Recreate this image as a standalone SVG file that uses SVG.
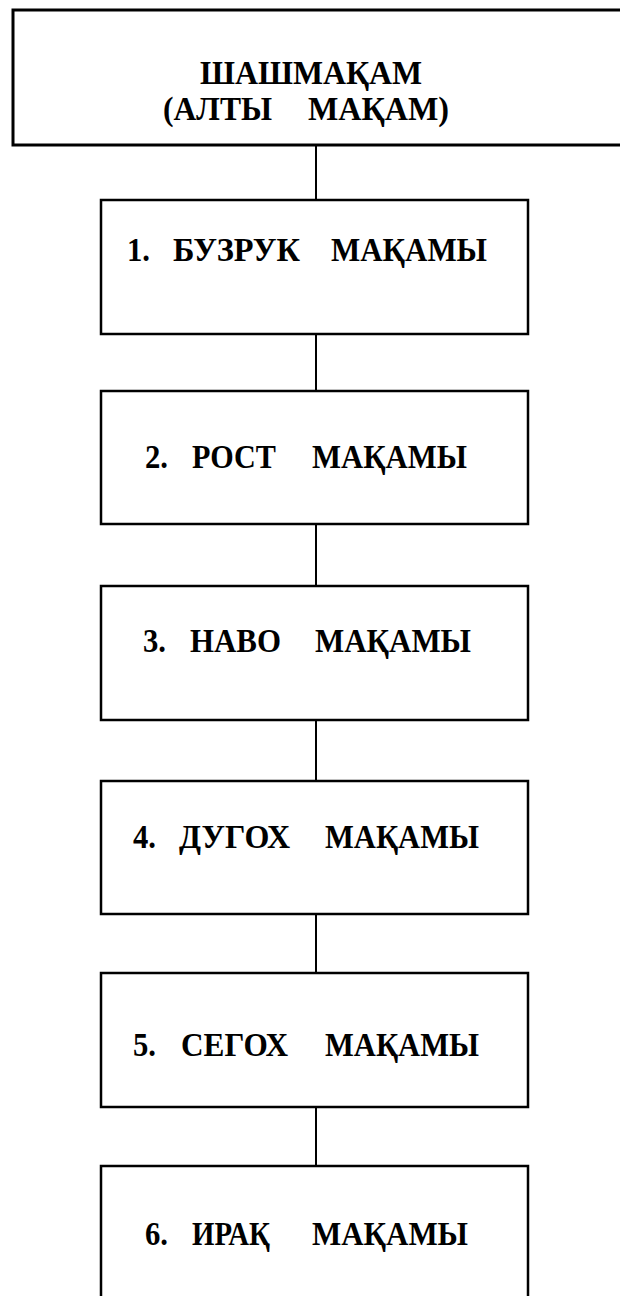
<svg xmlns="http://www.w3.org/2000/svg" width="620" height="1296" viewBox="0 0 620 1296">
<style>
.bg{fill:#ffffff}
.top{fill:#ffffff;stroke:#000000;stroke-width:3}
.box{fill:#ffffff;stroke:#000000;stroke-width:2.5}
.conn{stroke:#000000;stroke-width:2;fill:none}
.lbl{font-family:"Liberation Serif","Times New Roman",serif;font-weight:bold;font-size:33px;fill:#000000}
</style>
<rect class="bg" x="0" y="0" width="620" height="1296"/>
<g id="connectors">
<line class="conn" x1="316" y1="145" x2="316" y2="200"/>
<line class="conn" x1="316" y1="334" x2="316" y2="391"/>
<line class="conn" x1="316" y1="524" x2="316" y2="586"/>
<line class="conn" x1="316" y1="720" x2="316" y2="781"/>
<line class="conn" x1="316" y1="914" x2="316" y2="973"/>
<line class="conn" x1="316" y1="1107" x2="316" y2="1166"/>
</g>
<g id="node-root">
<rect class="top" x="13" y="10" width="700" height="135"/>
<text class="lbl" x="200" y="84" textLength="222" lengthAdjust="spacingAndGlyphs">ШАШМАҚАМ</text>
<text class="lbl" x="163" y="120" textLength="109" lengthAdjust="spacingAndGlyphs">(АЛТЫ</text>
<text class="lbl" x="308" y="120" textLength="141" lengthAdjust="spacingAndGlyphs">МАҚАМ)</text>
</g>
<g id="node-1">
<rect class="box" x="101" y="200" width="427" height="134"/>
<text class="lbl" x="127" y="261" textLength="23" lengthAdjust="spacingAndGlyphs">1.</text>
<text class="lbl" x="173" y="261" textLength="127" lengthAdjust="spacingAndGlyphs">БУЗРУК</text>
<text class="lbl" x="331" y="261" textLength="156" lengthAdjust="spacingAndGlyphs">МАҚАМЫ</text>
</g>
<g id="node-2">
<rect class="box" x="101" y="391" width="427" height="133"/>
<text class="lbl" x="145" y="468" textLength="23" lengthAdjust="spacingAndGlyphs">2.</text>
<text class="lbl" x="192" y="468" textLength="84" lengthAdjust="spacingAndGlyphs">РОСТ</text>
<text class="lbl" x="312" y="468" textLength="155" lengthAdjust="spacingAndGlyphs">МАҚАМЫ</text>
</g>
<g id="node-3">
<rect class="box" x="101" y="586" width="427" height="134"/>
<text class="lbl" x="143" y="652" textLength="23" lengthAdjust="spacingAndGlyphs">3.</text>
<text class="lbl" x="190" y="652" textLength="91" lengthAdjust="spacingAndGlyphs">НАВО</text>
<text class="lbl" x="315" y="652" textLength="156" lengthAdjust="spacingAndGlyphs">МАҚАМЫ</text>
</g>
<g id="node-4">
<rect class="box" x="101" y="781" width="427" height="133"/>
<text class="lbl" x="133" y="848" textLength="23" lengthAdjust="spacingAndGlyphs">4.</text>
<text class="lbl" x="179" y="848" textLength="111" lengthAdjust="spacingAndGlyphs">ДУГОХ</text>
<text class="lbl" x="325" y="848" textLength="154" lengthAdjust="spacingAndGlyphs">МАҚАМЫ</text>
</g>
<g id="node-5">
<rect class="box" x="101" y="973" width="427" height="134"/>
<text class="lbl" x="133" y="1056" textLength="23" lengthAdjust="spacingAndGlyphs">5.</text>
<text class="lbl" x="181" y="1056" textLength="107" lengthAdjust="spacingAndGlyphs">СЕГОХ</text>
<text class="lbl" x="325" y="1056" textLength="154" lengthAdjust="spacingAndGlyphs">МАҚАМЫ</text>
</g>
<g id="node-6">
<rect class="box" x="101" y="1166" width="427" height="200"/>
<text class="lbl" x="145" y="1245" textLength="23" lengthAdjust="spacingAndGlyphs">6.</text>
<text class="lbl" x="192" y="1245" textLength="78" lengthAdjust="spacingAndGlyphs">ИРАҚ</text>
<text class="lbl" x="312" y="1245" textLength="156" lengthAdjust="spacingAndGlyphs">МАҚАМЫ</text>
</g>
</svg>
